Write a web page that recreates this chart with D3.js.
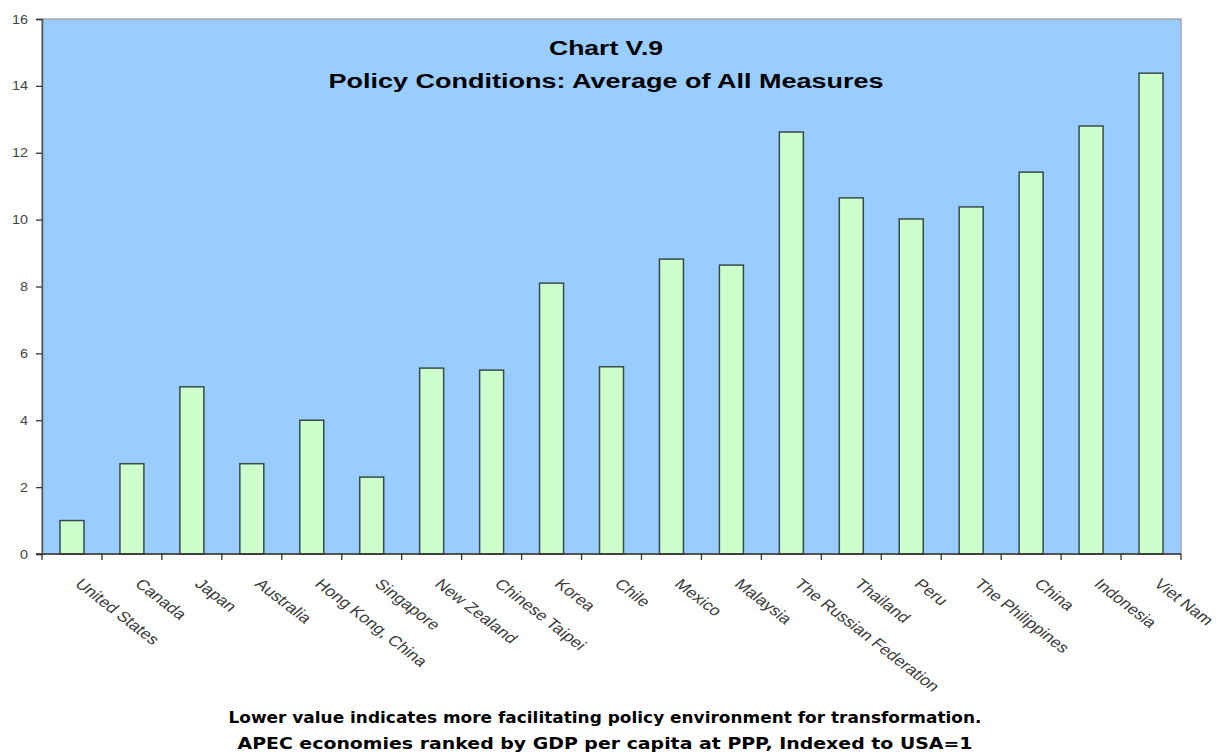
<!DOCTYPE html>
<html>
<head>
<meta charset="utf-8">
<script src="https://cdn.jsdelivr.net/npm/d3@7"></script>
<style>
  body { margin: 0; background: #fff; }
  svg { display: block; font-family: Arial, "Liberation Sans", sans-serif; }
</style>
</head>
<body>
<svg id="chart"></svg>
<script>
const economies = ["United States", "Canada", "Japan", "Australia", "Hong Kong, China", "Singapore",
    "New Zealand", "Chinese Taipei", "Korea", "Chile", "Mexico", "Malaysia", "The Russian Federation",
    "Thailand", "Peru", "The Philippines", "China", "Indonesia", "Viet Nam"];
const scores = [1.0, 2.7, 5.0, 2.7, 4.0, 2.3, 5.56, 5.5, 8.1, 5.6, 8.82, 8.64, 12.62, 10.65, 10.02, 10.38, 11.42, 12.8, 14.38];
const yTicks = [0, 2, 4, 6, 8, 10, 12, 14, 16];
const titleLines = ["Chart V.9", "Policy Conditions: Average of All Measures"];
const noteLines = ["Lower value indicates more facilitating policy environment for transformation.",
    "APEC economies ranked by GDP per capita at PPP, Indexed to USA=1"];

const width = 1218, height = 755;
const margin = { top: 19, right: 37, bottom: 201, left: 42 };
const stretch = 1.25; // the original picture is wider than tall, text looks stretched

const svg = d3.select("#chart")
    .attr("width", width)
    .attr("height", height);

const x = d3.scaleBand()
    .domain(economies)
    .range([margin.left, width - margin.right])
    .paddingInner(0.6)
    .paddingOuter(0.3);

const y = d3.scaleLinear()
    .domain([0, 16])
    .range([height - margin.bottom, margin.top]);

// plot background
svg.append("rect")
    .attr("x", margin.left)
    .attr("y", margin.top)
    .attr("width", width - margin.left - margin.right)
    .attr("height", y(0) - margin.top)
    .attr("fill", "#99ccff")
    .attr("stroke", "#a8a8a8")
    .attr("stroke-width", 1.5);

// bars
svg.append("g")
    .selectAll("rect")
    .data(economies)
    .join("rect")
    .attr("x", d => x(d))
    .attr("y", (d, i) => y(scores[i]))
    .attr("width", x.bandwidth())
    .attr("height", (d, i) => y(0) - y(scores[i]))
    .attr("fill", "#ccffcc")
    .attr("stroke", "#3a4a4a")
    .attr("stroke-width", 1.5);

// y axis
const yAxis = svg.append("g")
    .attr("transform", `translate(${margin.left},0)`)
    .call(d3.axisLeft(y).tickValues(yTicks).tickSize(6).tickPadding(8));
yAxis.select(".domain").attr("stroke", "#555").attr("stroke-width", 1.5);
yAxis.selectAll(".tick line").attr("stroke", "#333").attr("stroke-width", 1.3);
yAxis.selectAll("text")
    .attr("font-size", 12.5)
    .attr("fill", "#444")
    .attr("textLength", d => (d >= 10 ? 16 : 8))
    .attr("lengthAdjust", "spacingAndGlyphs");

// x axis: ticks sit on band boundaries
const step = x.step();
const boundaries = d3.range(economies.length + 1).map(i => margin.left + i * step);
const base = y(0);
svg.append("line")
    .attr("x1", margin.left - 6).attr("x2", width - margin.right)
    .attr("y1", base).attr("y2", base)
    .attr("stroke", "#333").attr("stroke-width", 1.5);
svg.append("g")
    .selectAll("line")
    .data(boundaries)
    .join("line")
    .attr("x1", d => d).attr("x2", d => d)
    .attr("y1", base).attr("y2", base + 6)
    .attr("stroke", "#333").attr("stroke-width", 1.3);

// rotated category labels
svg.append("g")
    .selectAll("text")
    .data(economies)
    .join("text")
    .attr("transform", d => `translate(${x(d) + x.bandwidth() / 2 + 2},${base + 31}) scale(${stretch},1) rotate(44)`)
    .attr("font-size", 14.5)
    .attr("fill", "#3a3a3a")
    .text(d => d);

// title
svg.append("g")
    .selectAll("text")
    .data(titleLines)
    .join("text")
    .attr("x", 606)
    .attr("y", (d, i) => 55 + i * 33)
    .attr("text-anchor", "middle")
    .attr("font-size", 20)
    .attr("font-weight", "bold")
    .attr("textLength", (d, i) => [114, 555][i])
    .attr("lengthAdjust", "spacingAndGlyphs")
    .text(d => d);

// note under the chart
svg.append("g")
    .selectAll("text")
    .data(noteLines)
    .join("text")
    .attr("x", 605)
    .attr("y", (d, i) => 723 + i * 26)
    .attr("text-anchor", "middle")
    .attr("font-size", 15)
    .attr("font-weight", "bold")
    .attr("font-family", "Verdana, 'DejaVu Sans', sans-serif")
    .attr("textLength", (d, i) => [753, 735][i])
    .attr("lengthAdjust", "spacingAndGlyphs")
    .text(d => d);
</script>
</body>
</html>
